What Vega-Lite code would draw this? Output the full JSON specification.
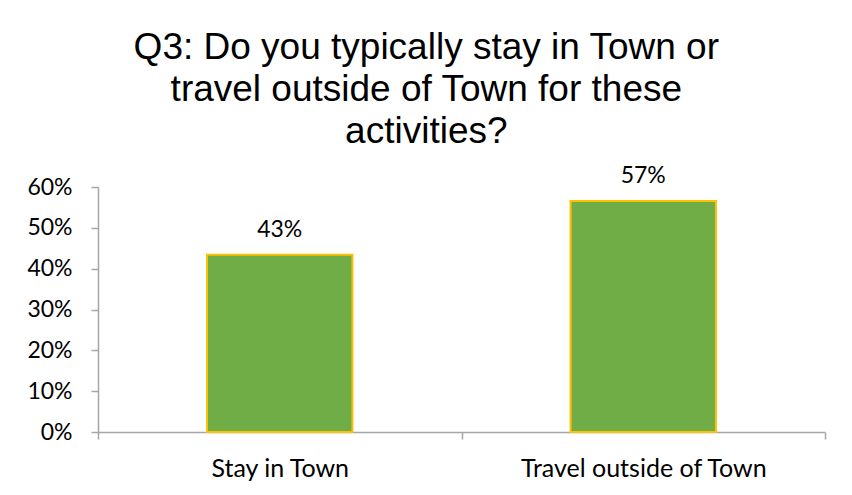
{
  "$schema": "https://vega.github.io/schema/vega-lite/v6.json",
  "width": 727,
  "height": 245,
  "autosize": {"type": "none"},
  "padding": {"left": 98, "top": 187, "right": 27, "bottom": 63},
  "background": "white",
  "title": {
    "text": ["Q3: Do you typically stay in Town or", "travel outside of Town for these", "activities?"],
    "font": "Liberation Sans",
    "fontSize": 37,
    "fontWeight": "normal",
    "lineHeight": 42,
    "anchor": "middle",
    "frame": "bounds",
    "color": "black",
    "offset": 14
  },
  "data": {
    "values": [
      {"answer": "Stay in Town", "share": 0.434},
      {"answer": "Travel outside of Town", "share": 0.566}
    ]
  },
  "encoding": {
    "x": {
      "field": "answer",
      "type": "nominal",
      "sort": null,
      "scale": {"paddingInner": 0, "paddingOuter": 0},
      "axis": {
        "title": null,
        "labelAngle": 0,
        "labelLimit": 0,
        "tickBand": "extent",
        "tickSize": 7,
        "labelPadding": 17,
        "labelFont": "Lato",
        "labelFontSize": 25,
        "labelColor": "black",
        "domainColor": "#A6A6A6",
        "tickColor": "#A6A6A6",
        "domainWidth": 1.5,
        "tickWidth": 1.5
      }
    },
    "y": {
      "field": "share",
      "type": "quantitative",
      "scale": {"domain": [0, 0.6]},
      "axis": {
        "title": null,
        "format": ".0%",
        "values": [0, 0.1, 0.2, 0.3, 0.4, 0.5, 0.6],
        "grid": false,
        "tickSize": 7,
        "labelPadding": 19,
        "labelFont": "Lato",
        "labelFontSize": 23,
        "labelColor": "black",
        "domainColor": "#A6A6A6",
        "tickColor": "#A6A6A6",
        "domainWidth": 1.5,
        "tickWidth": 1.5
      }
    }
  },
  "layer": [
    {
      "mark": {"type": "bar", "width": {"band": 0.4}, "fill": "#70AD47", "stroke": "#FFC000", "strokeWidth": 2}
    },
    {
      "mark": {"type": "text", "baseline": "bottom", "dy": -13, "font": "Lato", "fontSize": 23, "color": "black"},
      "encoding": {"text": {"field": "share", "type": "quantitative", "format": ".0%"}}
    }
  ],
  "config": {"view": {"stroke": null}}
}
